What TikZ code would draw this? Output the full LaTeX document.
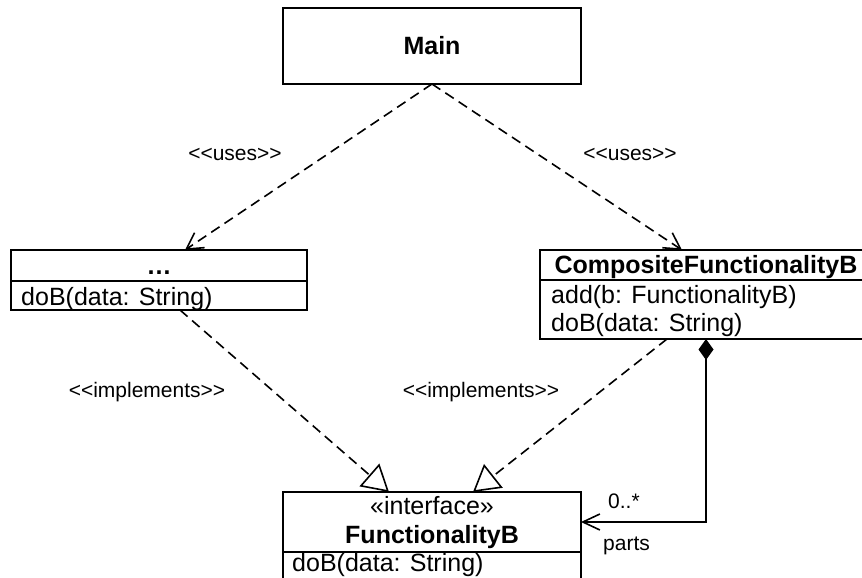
\documentclass[tikz,border=0pt]{standalone}
\usepackage{fontspec}
\newfontfamily\uifont{Liberation Sans}
\usetikzlibrary{arrows.meta,calc}
\begin{document}
\begin{tikzpicture}[x=1pt,y=-1pt,
  box/.style={draw, line width=2pt, anchor=north west, inner sep=0pt, outer sep=0pt, fill=white},
  mtxt/.style={anchor=base west, inner sep=0pt, font=\uifont\fontsize{25}{30}\selectfont},
  ctxt/.style={anchor=base, inner sep=0pt, font=\uifont\fontsize{25}{30}\selectfont},
  btxt/.style={anchor=base, inner sep=0pt, font=\uifont\fontsize{25}{30}\selectfont\bfseries},
  lbl/.style={anchor=base, inner sep=0pt, font=\uifont\fontsize{21}{25}\selectfont},
  dep/.style={draw, line width=1.6pt, dash pattern=on 10pt off 6pt},
  usesarrow/.style={dep, -{Straight Barb[length=16pt,width=18pt]}},
  implarrow/.style={dep, -{Triangle[open,length=26pt,width=30pt,fill=white]}},
  compo/.style={draw, line width=1.6pt, {Diamond[length=21pt,width=15pt]}-{Straight Barb[length=17pt,width=16pt]}}
]
\path[use as bounding box] (0,0) rectangle (862,578);
\clip (0,0) rectangle (862,578);

% Main
\node[box, minimum width=298pt, minimum height=76pt] (main) at (283,8) {};
\node[btxt] (mainT) at (432,55) {Main};

% ... class
\node[box, minimum width=296pt, minimum height=31pt] (dotsH) at (11,250) {};
\node[box, minimum width=296pt, minimum height=29pt] (dotsB) at (11,281) {};
\node[btxt] (dotsT) at (159,274) {…};
\node[mtxt] (dotsM) at (21,305) {doB(data: String)};

% CompositeFunctionalityB
\node[box, minimum width=332pt, minimum height=30pt] (compH) at (540,250) {};
\node[box, minimum width=332pt, minimum height=59pt] (compB) at (540,280) {};
\node[btxt] (compT) at (706,273) {CompositeFunctionalityB};
\node[mtxt] (compM1) at (551,303) {add(b: FunctionalityB)};
\node[mtxt] (compM2) at (551,331) {doB(data: String)};

% FunctionalityB interface
\node[box, minimum width=298pt, minimum height=60pt] (ifaceH) at (283,492) {};
\node[box, minimum width=298pt, minimum height=50pt] (ifaceB) at (283,552) {};
\node[ctxt] (ifaceS) at (432,514) {«interface»};
\node[btxt] (ifaceT) at (432,543) {FunctionalityB};
\node[mtxt] (ifaceM) at (292,571) {doB(data: String)};

% connectors
\draw[usesarrow] (main.south) -- ($(dotsH.north west)+(174,0)$);
\draw[usesarrow] (main.south) -- ($(compH.north west)+(142,0)$);
\draw[implarrow] ($(dotsB.south west)+(169,0)$) -- ($(ifaceH.north west)+(106,0)$);
\draw[implarrow] ($(compB.south west)+(127,0)$) -- ($(ifaceH.north west)+(190,0)$);
\draw[compo] (compB.south) |- (ifaceH.east);

% labels
\node[lbl] (uses1) at (235,160) {<<uses>>};
\node[lbl] (uses2) at (630,160) {<<uses>>};
\node[lbl] (impl1) at (147,397) {<<implements>>};
\node[lbl] (impl2) at (481,397) {<<implements>>};
\node[lbl, anchor=base west] (mult) at (608,508) {0..*};
\node[lbl, anchor=base west] (role) at (603,550) {parts};
\end{tikzpicture}
\end{document}
